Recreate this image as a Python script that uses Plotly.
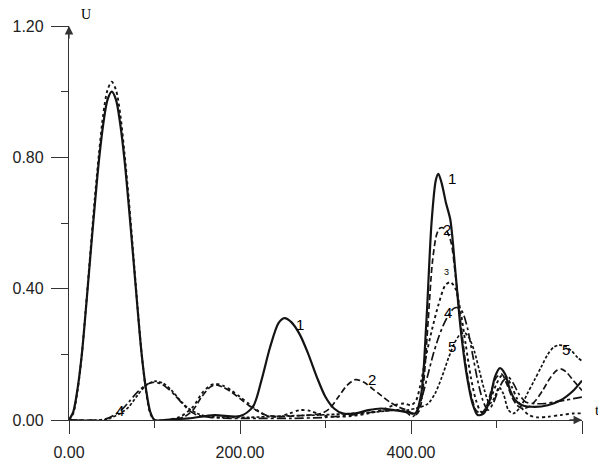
import plotly.graph_objects as go

# ---------------- data ----------------
t1 = [0, 5, 10, 15, 20, 25, 30, 35, 40, 45, 50, 55, 60, 65, 70, 75, 80, 85, 90, 95, 100,
      120, 140, 170, 200, 215, 225, 235, 245, 252, 260, 270, 280, 290, 300, 310, 320, 335,
      350, 365, 380, 395, 405, 412, 418, 424, 429, 432, 436, 441, 446, 452, 458, 465, 472,
      478, 485, 492, 498, 504, 510, 516, 522, 530, 545, 560, 575, 590, 600]
u1 = [0, 0.025, 0.095, 0.2, 0.345, 0.5, 0.65, 0.79, 0.9, 0.975, 1.0, 0.975, 0.9, 0.79, 0.65, 0.5, 0.345, 0.2, 0.095, 0.025, 0,
      0.002, 0.005, 0.015, 0.012, 0.04, 0.12, 0.22, 0.295, 0.31, 0.298, 0.26, 0.2, 0.13, 0.07, 0.035, 0.02, 0.02,
      0.03, 0.035, 0.03, 0.025, 0.02, 0.08, 0.3, 0.6, 0.73, 0.75, 0.72, 0.66, 0.61, 0.45, 0.28, 0.14, 0.05,
      0.015, 0.02, 0.06, 0.13, 0.158, 0.14, 0.09, 0.06, 0.045, 0.04, 0.045, 0.06, 0.09, 0.12]

t2 = [0, 120, 135, 145, 155, 165, 172, 180, 190, 200, 210, 220, 230, 245, 260, 280, 295, 305,
      315, 325, 335, 345, 355, 365, 375, 385, 395, 405, 410, 415, 420, 425, 430, 434, 438, 442,
      447, 452, 458, 464, 470, 476, 482, 488, 494, 500, 506, 512, 518, 524, 530, 538, 546, 554,
      562, 570, 576, 582, 590, 600]
u2 = [0, 0, 0.01, 0.03, 0.07, 0.1, 0.107, 0.1, 0.085, 0.065, 0.045, 0.028, 0.015, 0.01, 0.012, 0.015, 0.02, 0.035,
      0.07, 0.105, 0.123, 0.115, 0.095, 0.075, 0.055, 0.04, 0.03, 0.015, 0.03, 0.12, 0.3, 0.48, 0.565, 0.585, 0.585, 0.575,
      0.54, 0.44, 0.3, 0.17, 0.08, 0.03, 0.02, 0.04, 0.09, 0.13, 0.14, 0.11, 0.07, 0.045, 0.035, 0.04, 0.06, 0.09,
      0.125, 0.15, 0.155, 0.145, 0.12, 0.09]

t3 = [0, 5, 10, 15, 20, 25, 30, 35, 40, 45, 50, 55, 60, 65, 70, 75, 80, 85, 90, 95, 100,
      115, 130, 145, 155, 165, 172, 180, 190, 200, 210, 220, 232, 245, 258, 270, 282, 295, 310,
      330, 350, 365, 380, 392, 400, 406, 412, 418, 425, 432, 440, 446, 452, 458, 464, 470, 476,
      482, 488, 494, 500, 506, 512, 518, 524, 530, 538, 548, 560, 575, 590, 600]
u3 = [0, 0.02, 0.09, 0.2, 0.35, 0.51, 0.67, 0.81, 0.93, 1.005, 1.03, 1.005, 0.93, 0.81, 0.67, 0.51, 0.35, 0.2, 0.09, 0.02, 0,
      0, 0.01, 0.04, 0.08, 0.105, 0.11, 0.105, 0.09, 0.07, 0.05, 0.03, 0.012, 0.01, 0.02, 0.03, 0.028, 0.015, 0.01,
      0.012, 0.02, 0.03, 0.045, 0.05, 0.045, 0.06, 0.12, 0.2, 0.28, 0.35, 0.41, 0.42, 0.4, 0.33, 0.23, 0.13, 0.06,
      0.025, 0.03, 0.07, 0.11, 0.135, 0.13, 0.1, 0.065, 0.035, 0.015, 0.008, 0.01, 0.015, 0.02, 0.02]

t4 = [0, 35, 45, 55, 62, 70, 80, 90, 100, 108, 116, 124, 132, 140, 150, 165, 190, 220, 260, 300,
      330, 350, 370, 385, 395, 402, 408, 414, 420, 426, 432, 438, 444, 450, 455, 460, 466, 472, 478,
      484, 490, 496, 502, 508, 514, 520, 526, 534, 544, 556, 568, 580, 590, 600]
u4 = [0, 0, 0.005, 0.018, 0.032, 0.055, 0.085, 0.107, 0.115, 0.11, 0.095, 0.075, 0.052, 0.03, 0.015, 0.008, 0.005, 0.005, 0.005, 0.008,
      0.015, 0.022, 0.028, 0.03, 0.022, 0.01, 0.03, 0.08, 0.14, 0.2, 0.25, 0.29, 0.32, 0.34, 0.342, 0.33, 0.28, 0.2, 0.12,
      0.06, 0.03, 0.05, 0.09, 0.12, 0.13, 0.11, 0.08, 0.055, 0.05, 0.05, 0.055, 0.06, 0.065, 0.07]

t5 = [0, 40, 50, 60, 70, 80, 90, 100, 110, 120, 130, 140, 150, 160, 180, 210, 250, 290, 330, 360,
      380, 395, 405, 412, 420, 428, 436, 444, 452, 458, 463, 468, 474, 480, 486, 492, 498, 503, 508,
      514, 520, 528, 536, 544, 552, 560, 567, 573, 580, 588, 595, 600]
u5 = [0, 0, 0.008, 0.02, 0.04, 0.075, 0.105, 0.118, 0.112, 0.09, 0.06, 0.035, 0.02, 0.012, 0.008, 0.008, 0.012, 0.015, 0.02, 0.025,
      0.03, 0.03, 0.035, 0.04, 0.05, 0.08, 0.13, 0.19, 0.24, 0.262, 0.265, 0.25, 0.21, 0.15, 0.09, 0.05, 0.07, 0.1, 0.08,
      0.03, 0.02, 0.04, 0.08, 0.12, 0.16, 0.2, 0.222, 0.228, 0.225, 0.21, 0.19, 0.18]

curve_labels = [("1", 448, 0.737), ("1", 270, 0.29), ("2", 442, 0.58), ("2", 354, 0.122),
                ("3", 441, 0.45), ("4", 443, 0.326), ("4", 60, 0.03), ("5", 448, 0.225), ("5", 581, 0.216)]

x_ticks = [0, 200, 400, 600]
x_ticktext = ["0.00", "200.00", "400.00", "600.00"]
y_ticks = [0, 0.4, 0.8, 1.2]
y_ticktext = ["0.00", "0.40", "0.80", "1.20"]

# ---------------- figure ----------------
INK = "#141414"
series = [
    (t1, u1, "solid", 2.2),
    (t2, u2, "6px,3px", 1.7),
    (t3, u3, "dot", 1.9),
    (t4, u4, "dashdot", 1.7),
    (t5, u5, "3px,2px", 1.7),
]

fig = go.Figure()
for i, (tt, uu, dash, w) in enumerate(series):
    fig.add_trace(go.Scatter(x=tt, y=uu, mode="lines",
                             line=dict(color=INK, width=w, dash=dash, shape="spline", smoothing=0.8),
                             name=str(i + 1), showlegend=False, hoverinfo="skip"))

for txt, xv, yv in curve_labels:
    fig.add_annotation(x=xv, y=yv, text=txt, showarrow=False, xanchor="center", yanchor="middle",
                       font=dict(family="Liberation Sans, Arial", size=9 if txt == "3" else 15, color="black"))

# axis arrows
fig.add_annotation(x=0, y=1.2, ax=0, ay=14, xref="x", yref="y", axref="pixel", ayref="pixel",
                   text="", showarrow=True, arrowhead=2, arrowsize=1.3, arrowwidth=1.3, arrowcolor="#333")
fig.add_annotation(x=600, y=0, ax=-14, ay=0, xref="x", yref="y", axref="pixel", ayref="pixel",
                   text="", showarrow=True, arrowhead=2, arrowsize=1.3, arrowwidth=1.3, arrowcolor="#333")

fig.add_annotation(x=0.02, y=1.028, xref="paper", yref="paper", text="U", showarrow=False,
                   xanchor="left", yanchor="middle", font=dict(family="Liberation Serif", size=14, color="black"))
fig.add_annotation(x=1.031, y=0.025, xref="paper", yref="paper", text="t", showarrow=False,
                   xanchor="center", yanchor="middle", font=dict(family="Liberation Serif", size=15, color="black"))

# the page body adds an 8px offset, so the figure is sized to fit the window
fig.update_layout(
    width=598, height=455,
    margin=dict(l=61, r=24, t=18, b=43, autoexpand=False),
    paper_bgcolor="white", plot_bgcolor="white",
    font=dict(family="Liberation Sans, Arial", size=16, color="#222"),
    xaxis=dict(range=[0, 600], tickmode="array", tickvals=x_ticks, ticktext=x_ticktext,
               ticks="outside", ticklen=13, tickwidth=1.2, tickcolor="#333", automargin=False,
               minor=dict(tickmode="array", tickvals=[100, 300, 500], ticks="outside", ticklen=7,
                          tickwidth=1.2, tickcolor="#333"),
               showline=True, linecolor="#333", linewidth=1.3, showgrid=False, zeroline=False,
               ticklabelstandoff=5),
    yaxis=dict(range=[0, 1.2], tickmode="array", tickvals=y_ticks, ticktext=y_ticktext,
               ticks="outside", ticklen=17, tickwidth=1.2, tickcolor="#333", automargin=False,
               minor=dict(tickmode="array", tickvals=[0.2, 0.6, 1.0], ticks="outside", ticklen=7,
                          tickwidth=1.2, tickcolor="#333"),
               showline=True, linecolor="#333", linewidth=1.3, showgrid=False, zeroline=False,
               ticklabelstandoff=4),
)

fig.write_html("out.html")
